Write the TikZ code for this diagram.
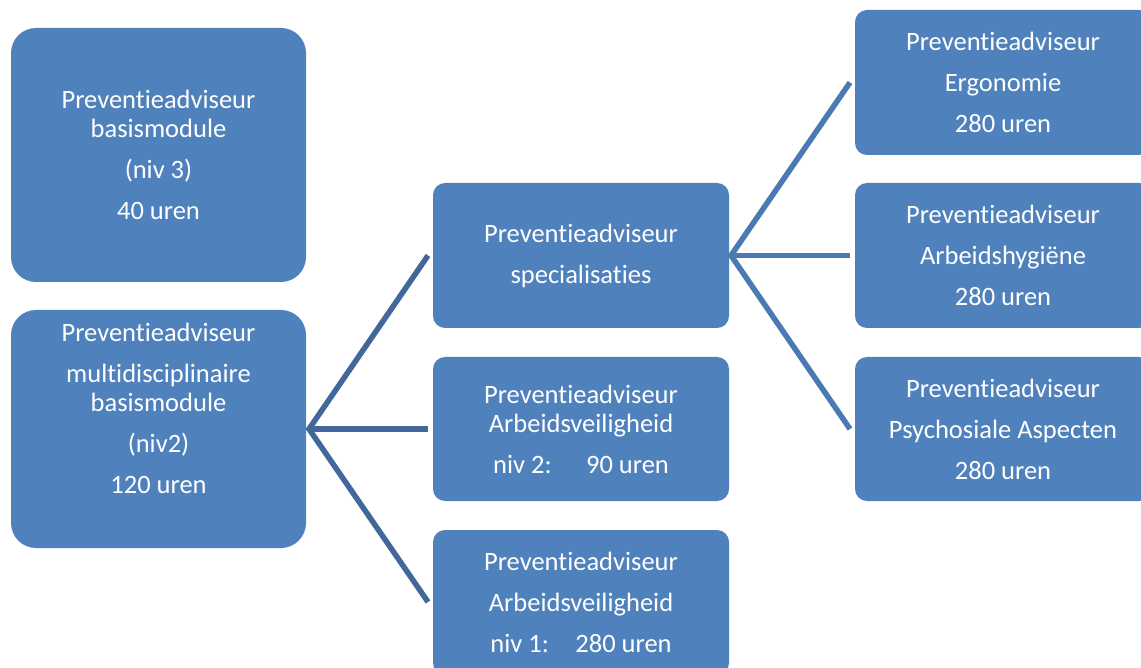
\documentclass[tikz,border=0pt]{standalone}
\usepackage{fontspec}
\setmainfont{Carlito}[Ligatures=NoCommon]
\definecolor{boxblue}{HTML}{4F81BD}
\definecolor{linkdark}{HTML}{41679B}
\definecolor{linklight}{HTML}{4A79B3}
\tikzset{
  card/.style={draw=none, fill=boxblue, rectangle},
  bigcard/.style={card, rounded corners=25pt},
  smallcard/.style={card, rounded corners=12pt},
  cardtext/.style={text=white, align=center, inner sep=0pt,
    font=\fontsize{26.5}{29}\selectfont},
  link/.style={line width=5.5pt, line join=miter},
}
\newcommand{\parskipgap}{\\[12pt]}
\begin{document}
\begin{tikzpicture}[x=1pt,y=-1pt]
  \clip (0,0) rectangle (1141,668);
  \fill[white] (0,0) rectangle (1141,668);

  % boxes
  \path[bigcard]   (11,28)   rectangle (306,282)  coordinate[pos=0.5] (A);
  \path[bigcard]   (11,310)  rectangle (306,548)  coordinate[pos=0.5] (B);
  \path[smallcard] (433,183) rectangle (729,328)  coordinate[pos=0.5] (C);
  \path[smallcard] (433,357) rectangle (729,501)  coordinate[pos=0.5] (D);
  \path[smallcard] (433,530) rectangle (729,675)  coordinate[pos=0.5] (E);
  \path[smallcard] (855,10)  rectangle (1151,155) coordinate[pos=0.5] (F);
  \path[smallcard] (855,183) rectangle (1151,328) coordinate[pos=0.5] (G);
  \path[smallcard] (855,357) rectangle (1151,501) coordinate[pos=0.5] (H);

  % connection points on the box edges
  \coordinate (Bout) at (309,429);
  \coordinate (Cin)  at (428,255.5);
  \coordinate (Din)  at (428,429);
  \coordinate (Ein)  at (428,602);
  \coordinate (Cout) at (731,255.5);
  \coordinate (Fin)  at (850,82.5);
  \coordinate (Gin)  at (850,255.5);
  \coordinate (Hin)  at (850,429);

  % connectors
  \draw[link, linkdark]  (Cin) -- (Bout) -- (Ein);
  \draw[link, linkdark]  (Bout) -- (Din);
  \draw[link, linklight] (Fin) -- (Cout) -- (Hin);
  \draw[link, linklight] (Cout) -- (Gin);

  % texts
  \node[cardtext] (At) at (158.5,155) {Preventieadviseur\\basismodule\parskipgap(niv 3)\parskipgap 40 uren};
  \node[cardtext] (Bt) at (158.5,408) {Preventieadviseur\parskipgap multidisciplinaire\\basismodule\parskipgap(niv2)\parskipgap 120 uren};
  \node[cardtext] (Ct) at (581,255.5) {Preventieadviseur\parskipgap specialisaties};
  \node[cardtext] (Dt) at (581,429) {Preventieadviseur\\Arbeidsveiligheid\parskipgap niv 2:\hspace{1.3em}90 uren};
  \node[cardtext] (Et) at (581,602) {Preventieadviseur\parskipgap Arbeidsveiligheid\parskipgap niv 1:\hspace{1.0em}280 uren};
  \node[cardtext] (Ft) at (1003,82.5) {Preventieadviseur\parskipgap Ergonomie\parskipgap 280 uren};
  \node[cardtext] (Gt) at (1003,255.5) {Preventieadviseur\parskipgap Arbeidshygiëne\parskipgap 280 uren};
  \node[cardtext] (Ht) at (1003,429) {Preventieadviseur\parskipgap Psychosiale Aspecten\parskipgap 280 uren};
\end{tikzpicture}
\end{document}
